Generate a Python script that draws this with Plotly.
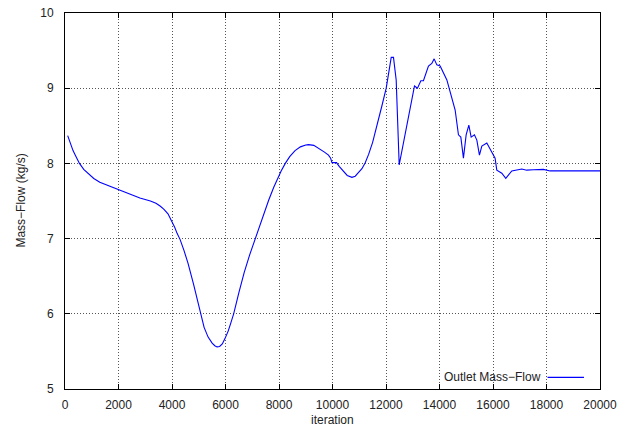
import plotly.graph_objects as go

# Outlet mass-flow convergence history
iteration = [100, 200, 300, 400, 540, 700, 900, 1076, 1300, 1600, 2010, 2400,
             2800, 3193, 3400, 3567, 3700, 3850, 4003, 4100, 4190, 4300, 4450,
             4600, 4800, 5061, 5200, 5350, 5500, 5600, 5684, 5780, 5880, 5980,
             6100, 6200, 6305, 6500, 6700, 6900, 7115, 7350, 7613, 7800, 7925,
             8080, 8235, 8400, 8600, 8800, 9000, 9107, 9300, 9500, 9700, 9850,
             9930, 9980, 10150, 10250, 10400, 10550, 10726, 10850, 10950,
             11100, 11223, 11350, 11500, 11620, 11720, 11850, 12008, 12100,
             12195, 12280, 12381, 12493, 12780, 13065, 13177, 13303, 13400,
             13587, 13713, 13800, 13900, 14024, 14275, 14585, 14708, 14797,
             14895, 14996, 15097, 15183, 15306, 15396, 15493, 15582, 15769,
             15956, 16078, 16142, 16329, 16478, 16702, 17076, 17263, 17512,
             17885, 18133, 20000]
mass_flow = [8.37, 8.27, 8.17, 8.10, 8.00, 7.92, 7.85, 7.80, 7.75, 7.71, 7.65, 7.60,
             7.54, 7.50, 7.47, 7.43, 7.39, 7.33, 7.225, 7.15, 7.07, 6.99, 6.84,
             6.67, 6.40, 6.00, 5.82, 5.69, 5.61, 5.575, 5.56, 5.565, 5.60, 5.67,
             5.77, 5.88, 6.00, 6.28, 6.55, 6.78, 7.00, 7.25, 7.51, 7.68, 7.78,
             7.90, 8.00, 8.09, 8.17, 8.22, 8.245, 8.25, 8.24, 8.20, 8.15, 8.11,
             8.07, 8.01, 8.01, 7.96, 7.90, 7.84, 7.815, 7.83, 7.87,
             7.93, 8.01, 8.12, 8.28, 8.44, 8.58, 8.77, 9.00, 9.20,
             9.41, 9.41, 9.11, 7.98, 8.53, 9.03, 9.00, 9.10, 9.10,
             9.295, 9.33, 9.39, 9.31, 9.295, 9.11, 8.71, 8.38, 8.35,
             8.07, 8.38, 8.51, 8.35, 8.38, 8.31, 8.11, 8.23, 8.27,
             8.16, 8.07, 7.91, 7.87, 7.80, 7.90, 7.925, 7.91, 7.915,
             7.92, 7.90, 7.90]

x_ticks = [0, 2000, 4000, 6000, 8000, 10000, 12000, 14000, 16000, 18000, 20000]
x_tick_text = [str(v) for v in x_ticks]
y_ticks = [5, 6, 7, 8, 9, 10]
y_tick_text = [str(v) for v in y_ticks]

series_name = "Outlet Mass\u2212Flow"
x_title = "iteration"
y_title = "Mass\u2212Flow (kg/s)"
line_color = "#0000ff"
text_color = "#222222"
font_family = "Liberation Sans, Arial, sans-serif"
font_size = 12

fig = go.Figure()
fig.add_trace(go.Scatter(x=iteration, y=mass_flow, mode="lines",
                         name=series_name,
                         line=dict(color=line_color, width=1.1),
                         showlegend=False))

axis_common = dict(
    automargin=False,
    showline=True, linecolor="black", linewidth=1, mirror="allticks",
    ticks="inside", ticklen=5, tickcolor="black",
    showgrid=True, gridcolor="#555555", gridwidth=1, griddash="1px,2px",
    zeroline=False,
    tickfont=dict(family=font_family, size=font_size, color=text_color),
)

fig.update_xaxes(range=[0, 20000], tickvals=x_ticks, ticktext=x_tick_text,
                 ticklabelstandoff=5, **axis_common)
fig.update_yaxes(range=[5, 10], tickvals=y_ticks, ticktext=y_tick_text,
                 ticklabelstandoff=8, **axis_common)

# axis titles placed gnuplot-style
fig.add_annotation(x=0.5, y=-0.083, xref="paper", yref="paper",
                   text=x_title, showarrow=False, borderpad=0,
                   xanchor="center", yanchor="middle",
                   font=dict(family=font_family, size=font_size, color=text_color))
fig.add_annotation(x=-0.083, y=0.5, xref="paper", yref="paper",
                   text=y_title, showarrow=False, textangle=-90,
                   xanchor="center", yanchor="middle",
                   font=dict(family=font_family, size=font_size, color=text_color))

# key: text on the left, line sample on the right
fig.add_annotation(x=0.893, y=0.031, xref="paper", yref="paper",
                   text=series_name, showarrow=False,
                   xanchor="right", yanchor="middle",
                   font=dict(family=font_family, size=font_size, color=text_color))
fig.add_shape(type="line", xref="paper", yref="paper",
              x0=0.902, x1=0.970, y0=0.031, y1=0.031,
              line=dict(color=line_color, width=1.1))

fig.update_layout(
    width=629, height=427,
    margin=dict(l=64.5, r=29, t=13, b=38),
    plot_bgcolor="white", paper_bgcolor="white",
    font=dict(family=font_family),
)

fig.write_html("out.html")
